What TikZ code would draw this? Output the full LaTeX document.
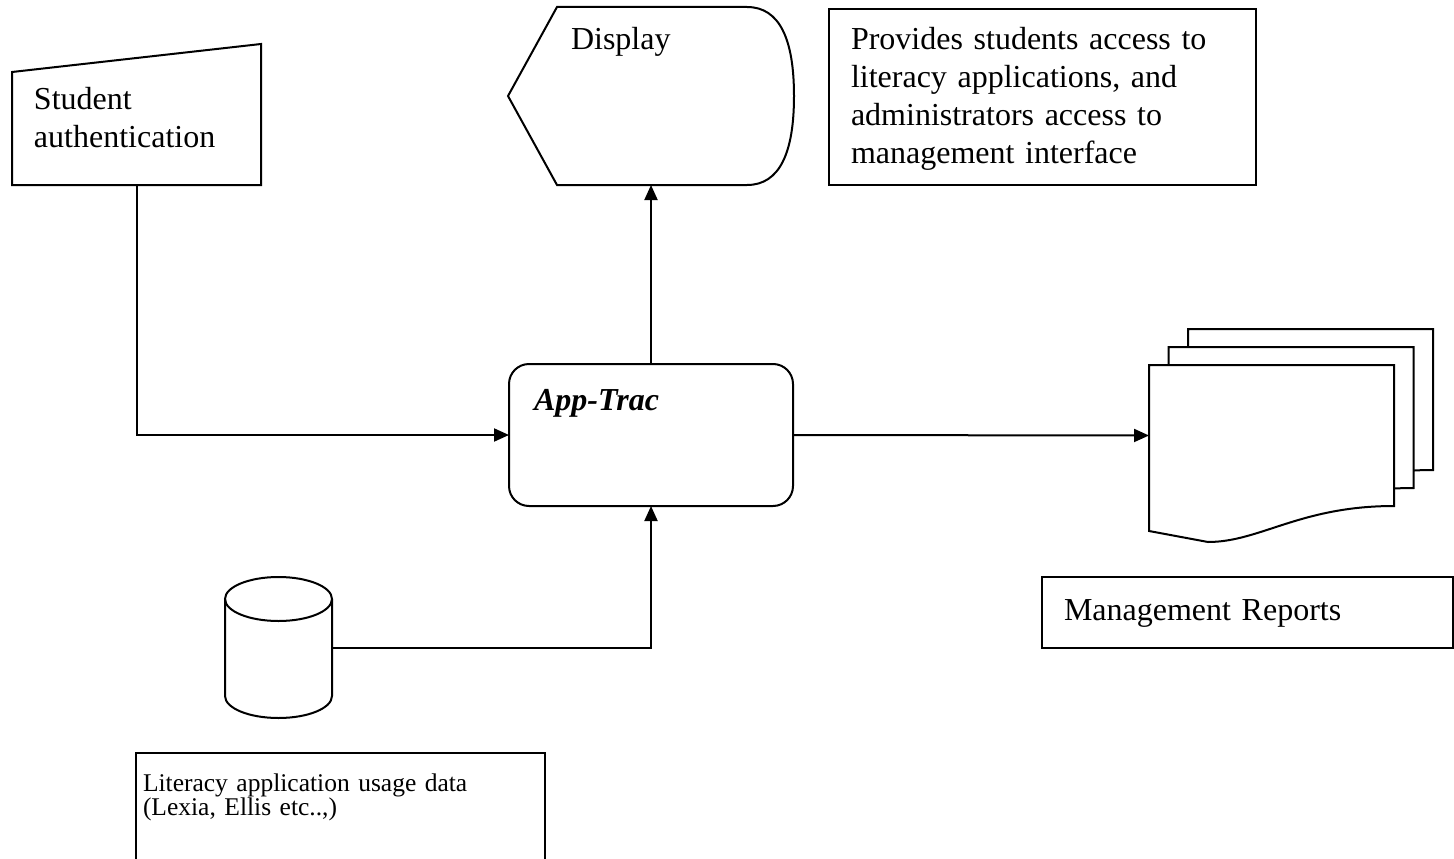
\documentclass[tikz,border=0pt]{standalone}
\usepackage{fontspec}
\setmainfont{Liberation Serif}[WordSpace=0.7]
\usetikzlibrary{calc,arrows.meta}
\begin{document}
\begin{tikzpicture}[x=1pt,y=-1pt,line width=2pt,>={Triangle[length=15pt,width=13pt]},
    frame/.style={anchor=north west,inner sep=0,outer sep=0},
    box/.style={frame,draw},
    txt/.style={anchor=base west,inner sep=0,align=left,text width=#1,font=\fontsize{32}{38}\selectfont},
    small/.style={txt=#1,font=\fontsize{25.5}{24.5}\selectfont}]
    \useasboundingbox(0,0)rectangle(1454,859);
    % student authentication
    \node[frame,minimum width=249pt,minimum height=141pt](stud)at(12,44){};
    \draw(stud.south west)--(stud.south east)--(stud.north east)--($(stud.north west)+(0,28)$)--cycle;
    \node[txt=220pt](studtext)at($(stud.north west)+(21,66)$){Student\\authentication};
    % display
    \node[frame,minimum width=286pt,minimum height=178pt](disp)at(508,7){};
    \draw($(disp.north west)+(49,0)$)--($(disp.north east)+(-47,0)$)
        ..controls($(disp.north east)+(-14,0)$)and($(disp.east)+(0,-56)$)..(disp.east)
        ..controls($(disp.east)+(0,56)$)and($(disp.south east)+(-14,0)$)..($(disp.south east)+(-47,0)$)
        --($(disp.south west)+(49,0)$)--(disp.west)--cycle;
    \node[txt=200pt](disptext)at($(disp.north west)+(62,43)$){Display};
    \node[box,minimum width=427pt,minimum height=176pt](note)at(829,9){};
    \node[txt=400pt](notetext)at($(note.north west)+(21,41)$){Provides students access to\\literacy applications, and\\administrators access to\\management interface};
    % app-trac
    \node[box,rounded corners=20pt,minimum width=284pt,minimum height=142pt](app)at(509,364){};
    \node[txt=200pt,font=\fontsize{32}{38}\selectfont\bfseries\itshape](apptext)at($(app.north west)+(24,46)$){App-Trac};
    % reports
    \foreach \i in {2,1,0}
        \draw[fill=white,shift={(19.5*\i,-18*\i)}](1149,365)--(1394,365)--(1394,506)
            ..controls(1300,506)and(1260,542)..(1208,542)--(1149,531)--cycle;
    \node[frame,minimum width=245pt,minimum height=141pt](reports)at(1149,365){};
    \node[box,minimum width=411pt,minimum height=71pt](replabel)at(1042,577){};
    \node[txt=380pt](reptext)at($(replabel.north west)+(21,43)$){Management Reports};
    % usage data
    \node[frame,minimum width=107pt,minimum height=141pt](db)at(225,577){};
    \draw($(db.north)+(0,22)$)ellipse[x radius=53.5pt,y radius=22pt];
    \draw($(db.north west)+(0,22)$)--($(db.south west)+(0,-22)$)
        arc[start angle=180,end angle=360,x radius=53.5pt,y radius=22pt]--($(db.north east)+(0,22)$);
    \node[box,minimum width=409pt,minimum height=130pt](usage)at(136,753){};
    \node[small=380pt](usagetext)at($(usage.north west)+(6,38)$){Literacy application usage data\\(Lexia, Ellis etc..,)};
    % flows
    \draw[->](stud.south)|-(app.west);
    \draw[->](app.north)--(disp.south);
    \draw[->](app.east)--(reports.west);
    \draw[->](db.east)-|(app.south);
\end{tikzpicture}
\end{document}
